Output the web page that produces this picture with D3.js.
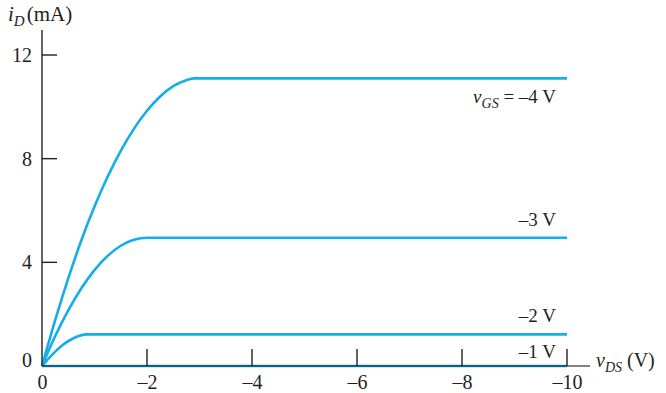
<!DOCTYPE html>
<html><head><meta charset="utf-8">
<script src="https://cdn.jsdelivr.net/npm/d3@7"></script>
<style>body{margin:0;background:#fff}svg{display:block}text{font-family:"Liberation Serif","Times New Roman",serif;fill:#231f20}</style>
</head><body><svg id="c" width="666" height="393"></svg>
<script>
const xTicks = [0, -2, -4, -6, -8, -10];
const yTicks = [0, 4, 8, 12];
const seriesNames = ["-4 V", "-3 V", "-2 V", "-1 V"];
const vds4 = [0, -0.25, -0.5, -0.75, -1, -1.25, -1.5, -1.75, -2, -2.25, -2.5, -2.75, -2.9, -10];
const id4  = [0, 1.76, 3.38, 4.85, 6.15, 7.3, 8.3, 9.15, 9.85, 10.4, 10.8, 11.03, 11.1, 11.1];
const vds3 = [0, -0.25, -0.5, -0.75, -1, -1.25, -1.5, -1.75, -2.0, -10];
const id3  = [0, 1.15, 2.15, 3.0, 3.7, 4.25, 4.64, 4.87, 4.95, 4.95];
const vds2 = [0, -0.2, -0.4, -0.6, -0.85, -10];
const id2  = [0, 0.45, 0.82, 1.07, 1.22, 1.22];
const vds1 = [0, -10];
const id1  = [0, 0];

const svg = d3.select("#c");
const x = d3.scaleLinear().domain([0, -10]).range([42, 567]);
const y = d3.scaleLinear().domain([0, 12]).range([366, 55]);
const blue = "#12aee8", ink = "#231f20";

const line = d3.line().x(d => x(d[0])).y(d => y(d[1])).curve(d3.curveMonotoneX);
const series = [[vds4, id4], [vds3, id3], [vds2, id2], [vds1, id1]];
series.forEach(([vx, vy]) => {
  svg.append("path").datum(vx.map((v, i) => [v, vy[i]]))
    .attr("d", line).attr("fill", "none").attr("stroke", blue).attr("stroke-width", 2.6);
});

// axes
const xAxis = d3.axisBottom(x).tickValues(xTicks).tickSize(0).tickFormat(d => d === 0 ? "0" : "\u2013" + Math.abs(d));
const gx = svg.append("g").attr("transform", "translate(0,366)").call(xAxis);
gx.select(".domain").remove();
gx.selectAll("text").attr("font-size", 20).attr("dy", 0).attr("y", 23).attr("fill", ink).style("font-family", '"Liberation Serif",serif');
svg.append("line").attr("x1", 42).attr("x2", 590).attr("y1", 366).attr("y2", 366).attr("stroke", ink).attr("stroke-width", 1.6).attr("opacity", 0.75);
svg.selectAll(".xt").data(xTicks.filter(d => d !== 0)).join("line")
  .attr("x1", d => x(d)).attr("x2", d => x(d)).attr("y1", 366).attr("y2", 349)
  .attr("stroke", ink).attr("stroke-width", 1.4);

const yAxis = d3.axisLeft(y).tickValues(yTicks).tickSize(0);
const gy = svg.append("g").attr("transform", "translate(42,0)").call(yAxis);
gy.select(".domain").remove();
gy.selectAll("text").attr("font-size", 20).attr("x", -10).attr("dy", "0.32em").attr("fill", ink).style("font-family", '"Liberation Serif",serif');
gy.selectAll(".tick").filter(d => d === 0).select("text").attr("dy", "0.0em");
svg.append("line").attr("x1", 42).attr("x2", 42).attr("y1", 30).attr("y2", 366).attr("stroke", ink).attr("stroke-width", 1.4);
svg.selectAll(".yt").data(yTicks.filter(d => d !== 0)).join("line")
  .attr("x1", 42).attr("x2", 57).attr("y1", d => y(d)).attr("y2", d => y(d))
  .attr("stroke", ink).attr("stroke-width", 1.4);

// axis titles
const t1 = svg.append("text").attr("x", 8).attr("y", 21).attr("font-size", 21);
t1.append("tspan").attr("font-style", "italic").text("i");
t1.append("tspan").attr("font-style", "italic").attr("font-size", 15).attr("dy", 5).text("D");
t1.append("tspan").attr("dy", -5).attr("dx", 2).text("(mA)");
const t2 = svg.append("text").attr("x", 596).attr("y", 367).attr("font-size", 20);
t2.append("tspan").attr("font-style", "italic").text("v");
t2.append("tspan").attr("font-style", "italic").attr("font-size", 14).attr("dy", 5).text("DS");
t2.append("tspan").attr("dy", -5).attr("dx", 5).text("(V)");

// curve labels
const lab = svg.append("text").attr("x", 556).attr("y", 103).attr("font-size", 19).attr("text-anchor", "end");
lab.append("tspan").attr("font-style", "italic").text("v");
lab.append("tspan").attr("font-style", "italic").attr("font-size", 14).attr("dy", 5).text("GS");
lab.append("tspan").attr("dy", -5).text(" = \u20134 V");
const ly = [226, 322, 358];
seriesNames.slice(1).forEach((n, i) => {
  svg.append("text").attr("x", 556).attr("y", ly[i]).attr("font-size", 19).attr("text-anchor", "end").text(n.replace("-", "\u2013"));
});
</script></body></html>
